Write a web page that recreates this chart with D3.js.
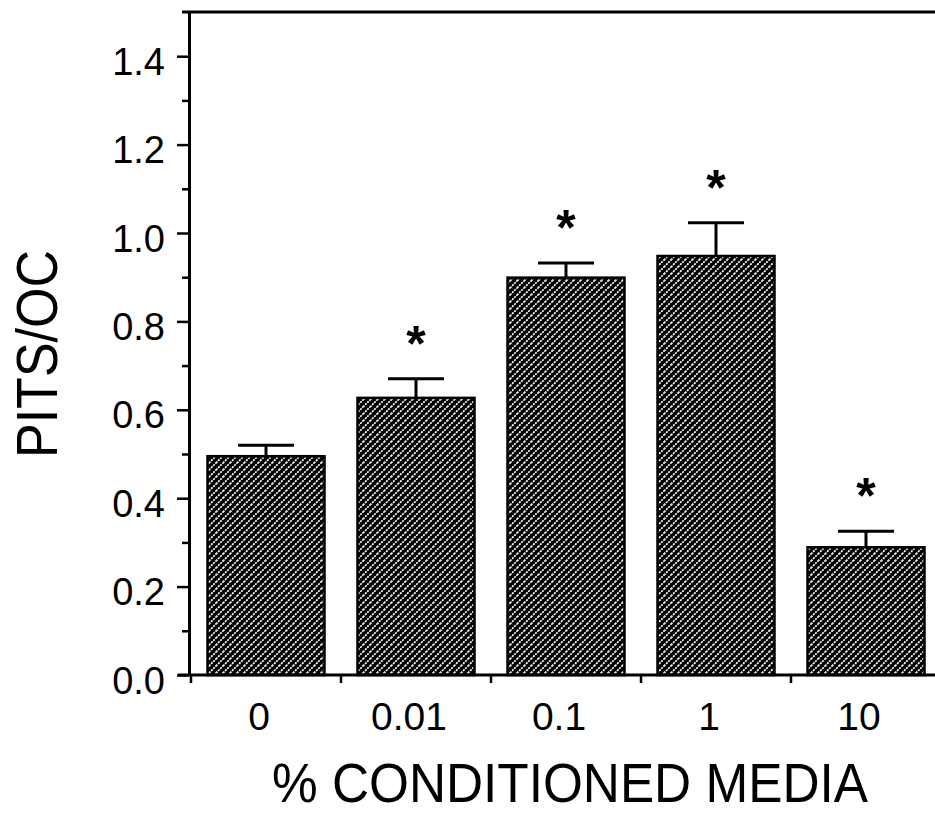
<!DOCTYPE html>
<html>
<head>
<meta charset="utf-8">
<script src="https://cdn.jsdelivr.net/npm/d3@7"></script>
<style>
  body { margin: 0; background: #fff; }
  text { font-family: "Liberation Sans", Arial, sans-serif; fill: #000; }
</style>
</head>
<body>
<svg width="935" height="814"></svg>
<script>
// values
var categories = ["0", "0.01", "0.1", "1", "10"];
var means = [0.495, 0.627, 0.899, 0.948, 0.289];
var errors = [0.025, 0.043, 0.033, 0.075, 0.036];
var significant = [false, true, true, true, true];
var yTicks = [0, 0.2, 0.4, 0.6, 0.8, 1.0, 1.2, 1.4];
var yMinorTicks = [0.1, 0.3, 0.5, 0.7, 0.9, 1.1, 1.3];

var svg = d3.select("svg");

// hatch fill: black with dotted white diagonals
var defs = svg.append("defs");
var pat = defs.append("pattern")
  .attr("id", "hatch")
  .attr("patternUnits", "userSpaceOnUse")
  .attr("width", 7).attr("height", 7);
pat.append("rect").attr("width", 7).attr("height", 7).attr("fill", "#000");
pat.append("path")
  .attr("d", "M-1,8 L8,-1 M-1,1 L1,-1 M6,8 L8,6")
  .attr("stroke", "#fff")
  .attr("stroke-width", 1.7)
  .attr("stroke-dasharray", "2,1");

var x = d3.scaleBand()
  .domain(categories)
  .range([191, 941])
  .paddingInner(0.22)
  .paddingOuter(0.11);

var y = d3.scaleLinear()
  .domain([0, 1.5])
  .range([675, 12]);

var data = categories.map(function(c, i) {
  return {cat: c, mean: means[i], err: errors[i], sig: significant[i]};
});

// bars
svg.selectAll("rect.bar")
  .data(data)
  .enter()
  .append("rect")
  .attr("class", "bar")
  .attr("x", function(d) { return x(d.cat); })
  .attr("y", function(d) { return y(d.mean); })
  .attr("width", x.bandwidth())
  .attr("height", function(d) { return y(0) - y(d.mean); })
  .attr("fill", "url(#hatch)")
  .attr("stroke", "#000")
  .attr("stroke-width", 2.5);

// error bars (upper only)
var cx = function(d) { return x(d.cat) + x.bandwidth() / 2; };
var eb = svg.selectAll("g.err")
  .data(data)
  .enter()
  .append("g")
  .attr("class", "err")
  .attr("stroke", "#000")
  .attr("stroke-width", 3);
eb.append("line")
  .attr("x1", cx).attr("x2", cx)
  .attr("y1", function(d) { return y(d.mean); })
  .attr("y2", function(d) { return y(d.mean + d.err); });
eb.append("line")
  .attr("x1", function(d) { return cx(d) - 28; })
  .attr("x2", function(d) { return cx(d) + 28; })
  .attr("y1", function(d) { return y(d.mean + d.err); })
  .attr("y2", function(d) { return y(d.mean + d.err); });

// asterisks
svg.selectAll("text.star")
  .data(data.filter(function(d) { return d.sig; }))
  .enter()
  .append("text")
  .attr("class", "star")
  .attr("x", cx)
  .attr("y", function(d) { return y(d.mean + d.err) - 46 + 28; })
  .attr("text-anchor", "middle")
  .style("font-size", "50px")
  .style("font-weight", "bold")
  .text("*");

// y axis
var yAxis = svg.append("g")
  .attr("transform", "translate(189,0)")
  .call(d3.axisLeft(y).tickValues(yTicks).tickSize(12).tickSizeOuter(0)
    .tickFormat(d3.format(".1f")).tickPadding(12));
yAxis.select(".domain").attr("stroke-width", 3);
yAxis.selectAll(".tick line").attr("stroke-width", 2.5);
yAxis.selectAll(".tick text")
  .attr("dy", 18)
  .style("font-size", "38px");

var yMinor = svg.append("g")
  .attr("transform", "translate(189,0)")
  .call(d3.axisLeft(y).tickValues(yMinorTicks).tickSize(7).tickFormat(""));
yMinor.select(".domain").remove();
yMinor.selectAll(".tick line").attr("stroke-width", 2.5);

// top frame line
svg.append("line")
  .attr("x1", 182).attr("x2", 935)
  .attr("y1", y(1.5)).attr("y2", y(1.5))
  .attr("stroke", "#000").attr("stroke-width", 3);

// x axis
svg.append("line")
  .attr("x1", 178).attr("x2", 935)
  .attr("y1", y(0)).attr("y2", y(0))
  .attr("stroke", "#000").attr("stroke-width", 3);

var gap = x.step() * x.paddingInner() / 2;
svg.selectAll("line.xtick")
  .data(categories)
  .enter()
  .append("line")
  .attr("class", "xtick")
  .attr("x1", function(c) { return x(c) - gap; })
  .attr("x2", function(c) { return x(c) - gap; })
  .attr("y1", y(0)).attr("y2", y(0) + 8)
  .attr("stroke", "#000").attr("stroke-width", 2.5);

var xAxis = svg.append("g")
  .attr("transform", "translate(-7," + y(0) + ")")
  .call(d3.axisBottom(x).tickSize(0).tickPadding(0));
xAxis.select(".domain").remove();
xAxis.selectAll(".tick text")
  .attr("y", 55)
  .attr("dy", 0)
  .style("font-size", "39px");

// axis titles
svg.append("text")
  .attr("x", 570).attr("y", 802)
  .attr("text-anchor", "middle")
  .attr("textLength", 596)
  .attr("lengthAdjust", "spacingAndGlyphs")
  .style("font-size", "56px")
  .text("% CONDITIONED MEDIA");

svg.append("text")
  .attr("transform", "translate(57,354) rotate(-90)")
  .attr("text-anchor", "middle")
  .attr("textLength", 208)
  .attr("lengthAdjust", "spacingAndGlyphs")
  .style("font-size", "58px")
  .text("PITS/OC");
</script>
</body>
</html>
